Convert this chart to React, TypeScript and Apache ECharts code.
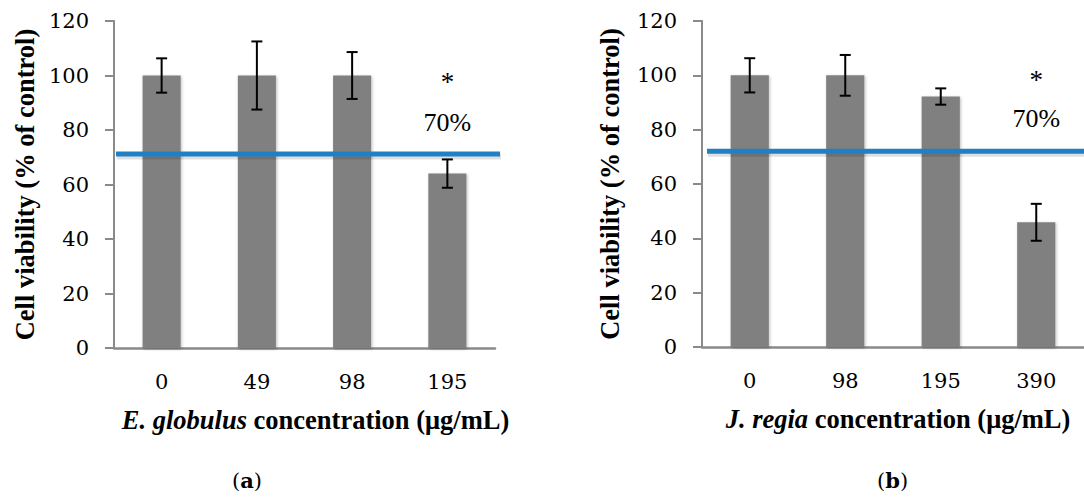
import React, { useEffect, useRef } from "react";
import * as echarts from "echarts";

const catsA = ["0", "49", "98", "195"];
const valsA = [100, 100, 100, 64];
const errA = [6.3, 12.5, 8.6, 5.2];
const thresholdA = 71.2;

const catsB = ["0", "98", "195", "390"];
const valsB = [100, 100, 92.2, 45.9];
const errB = [6.3, 7.5, 3.0, 6.8];
const thresholdB = 72.1;

const yTicks = { min: 0, max: 120, interval: 20 };
const starLabel = "*";
const pctLabel = "70%";
const starValA = 97.6;
const pctValA = 82.8;
const starValB = 98.2;
const pctValB = 84.1;

const yTitle = "Cell viability (% of control)";

export default function App() {
  const ref = useRef<HTMLDivElement>(null);
  useEffect(() => {
    if (!ref.current) return;
    const chart = echarts.init(ref.current, null, { renderer: "svg" });
    const tickFont = { fontFamily: "DejaVu Serif", fontSize: 21, color: "#000" };
    const serifBold = {
      fontFamily: "Liberation Serif",
      fontWeight: "bold" as const,
      color: "#000",
    };
    const axisGray = "#8a8a8a";

    const makeX = (
      cats: string[],
      gridIndex: number,
      italic: string,
      rest: string,
      shiftPad: number
    ) => ({
      type: "category",
      gridIndex,
      data: cats,
      axisLine: { lineStyle: { color: axisGray, width: 2.5 } },
      axisTick: { show: false },
      axisLabel: { ...tickFont, margin: 23 },
      name: `{i|${italic}}{b| ${rest}}`,
      nameLocation: "middle",
      nameGap: 58,
      nameTextStyle: {
        padding: [0, 0, 0, shiftPad],
        rich: {
          i: { ...serifBold, fontSize: 26.5, fontStyle: "italic" },
          b: { ...serifBold, fontSize: 26.5 },
        },
      },
    });
    const makeY = (gridIndex: number, gap: number) => ({
      type: "value",
      gridIndex,
      min: yTicks.min,
      max: yTicks.max,
      interval: yTicks.interval,
      axisLine: { show: true, lineStyle: { color: axisGray, width: 2 } },
      axisTick: { show: true, length: 9, lineStyle: { color: axisGray, width: 2 } },
      splitLine: { show: false },
      axisLabel: { ...tickFont, margin: 25 },
      name: yTitle,
      nameLocation: "middle",
      nameRotate: 90,
      nameGap: gap,
      nameTextStyle: { ...serifBold, fontSize: 26.5 },
    });

    const labelStyle = (text: string, size: number) => ({
      show: true,
      formatter: text,
      fontFamily: "Liberation Serif",
      fontSize: size,
      color: "#000",
      position: "inside",
    });

    const barSeries = (vals: number[], idx: number, cat: string, starVal: number, pctVal: number) => ({
      type: "bar",
      xAxisIndex: idx,
      yAxisIndex: idx,
      data: vals,
      barWidth: "40%",
      itemStyle: {
        color: "#808080",
        shadowBlur: 3,
        shadowColor: "rgba(0,0,0,0.25)",
        shadowOffsetX: 1,
        shadowOffsetY: 1,
      },
      markPoint: {
        silent: true,
        symbol: "circle",
        symbolSize: 0,
        data: [
          { coord: [cat, starVal], label: labelStyle(starLabel, 27) },
          { coord: [cat, pctVal], label: labelStyle(pctLabel, 26) },
        ],
      },
      z: 2,
    });

    const thresholdSeries = (thr: number, idx: number, startPad: number, endPad: number) => ({
      type: "custom",
      xAxisIndex: idx,
      yAxisIndex: idx,
      silent: true,
      data: [[0, thr]],
      renderItem: (params: any, api: any) => {
        const cs = params.coordSys;
        const y = api.coord([0, api.value(1)])[1];
        const x1 = cs.x + startPad;
        const x2 = cs.x + cs.width + endPad;
        return {
          type: "group",
          children: [
            {
              type: "line",
              shape: { x1: x1 + 1, y1: y + 2.5, x2: x2 + 1, y2: y + 2.5 },
              style: { stroke: "rgba(0,0,0,0.12)", lineWidth: 6 },
            },
            {
              type: "line",
              shape: { x1, y1: y, x2, y2: y },
              style: { stroke: "#2080C4", lineWidth: 5 },
            },
          ],
        };
      },
      z: 4,
    });

    const errSeries = (vals: number[], errs: number[], idx: number) => ({
      type: "custom",
      xAxisIndex: idx,
      yAxisIndex: idx,
      silent: true,
      data: vals.map((v, i) => [i, v - errs[i], v + errs[i]]),
      renderItem: (params: any, api: any) => {
        const x = api.value(0);
        const lo = api.coord([x, api.value(1)]);
        const hi = api.coord([x, api.value(2)]);
        const hw = 5.5;
        const style = { stroke: "#000", lineWidth: 2 };
        return {
          type: "group",
          children: [
            { type: "line", shape: { x1: lo[0], y1: lo[1], x2: hi[0], y2: hi[1] }, style },
            { type: "line", shape: { x1: lo[0] - hw, y1: lo[1], x2: lo[0] + hw, y2: lo[1] }, style },
            { type: "line", shape: { x1: hi[0] - hw, y1: hi[1], x2: hi[0] + hw, y2: hi[1] }, style },
          ],
        };
      },
      z: 3,
    });

    const panelLabel = (letter: string, left: number) => ({
      type: "text",
      left,
      top: 470,
      style: {
        text: `({b|${letter}})`,
        rich: { b: { fontFamily: "DejaVu Serif", fontWeight: "bold", fontSize: 21, fill: "#000" } },
        font: "21px 'DejaVu Serif'",
        fill: "#000",
      },
    });

    chart.setOption({
      animation: false,
      grid: [
        { left: 114, top: 21, width: 381, height: 327 },
        { left: 702, top: 21, width: 382, height: 326 },
      ],
      xAxis: [
        makeX(catsA, 0, "E. globulus", "concentration (μg/mL)", 22),
        makeX(catsB, 1, "J. regia", "concentration (μg/mL)", 10),
      ],
      yAxis: [makeY(0, 76), makeY(1, 79)],
      series: [
        barSeries(valsA, 0, catsA[3], starValA, pctValA),
        errSeries(valsA, errA, 0),
        thresholdSeries(thresholdA, 0, 2, 5),
        barSeries(valsB, 1, catsB[3], starValB, pctValB),
        errSeries(valsB, errB, 1),
        thresholdSeries(thresholdB, 1, 5, 0),
      ],
      graphic: [panelLabel("a", 232), panelLabel("b", 877)],
    });
    return () => chart.dispose();
  }, []);
  return <div ref={ref} style={{ width: 1084, height: 504, position: "absolute", left: 0, top: 0 }} />;
}
